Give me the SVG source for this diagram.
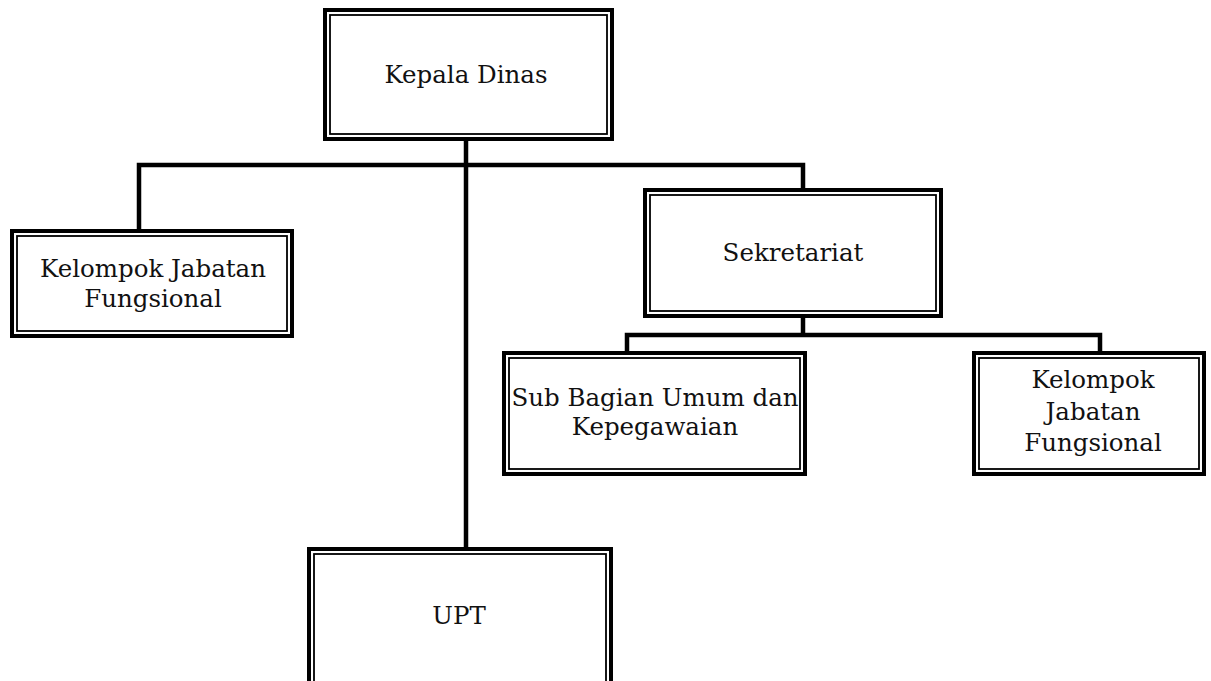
<svg xmlns="http://www.w3.org/2000/svg" width="1211" height="681" viewBox="0 0 1211 681">
<style>
.outer{fill:#fff;stroke:#000;stroke-width:4}
.inner{fill:none;stroke:#000;stroke-width:1.8}
.conn{fill:none;stroke:#000;stroke-width:4.5;stroke-linejoin:miter;stroke-linecap:butt}
text{font-family:"DejaVu Serif","Liberation Serif",serif;font-size:24.5px;fill:#111;text-anchor:middle}
</style>
<rect width="1211" height="681" fill="#fff"/>
<g id="connectors">
<path class="conn" d="M466,141 V549"/>
<path class="conn" d="M139,231 V165 H803 V190"/>
<path class="conn" d="M803,316 V335"/>
<path class="conn" d="M627,353 V335 H1100 V353"/>
</g>
<g id="kepala-dinas">
<rect class="outer" x="325" y="10" width="287" height="129"/>
<rect class="inner" x="330" y="15" width="277" height="119"/>
<text x="466" y="83">Kepala Dinas</text>
</g>
<g id="kjf-left">
<rect class="outer" x="12" y="231" width="280" height="105"/>
<rect class="inner" x="17" y="236" width="270" height="95"/>
<text x="153" y="277">Kelompok Jabatan</text>
<text x="153" y="307">Fungsional</text>
</g>
<g id="sekretariat">
<rect class="outer" x="645" y="190" width="296" height="126"/>
<rect class="inner" x="650" y="195" width="286" height="116"/>
<text x="793" y="261">Sekretariat</text>
</g>
<g id="sub-bagian">
<rect class="outer" x="504" y="353" width="301" height="121"/>
<rect class="inner" x="509" y="358" width="291" height="111"/>
<text x="655" y="406">Sub Bagian Umum dan</text>
<text x="655" y="435">Kepegawaian</text>
</g>
<g id="kjf-right">
<rect class="outer" x="974" y="353" width="230" height="121"/>
<rect class="inner" x="979" y="358" width="220" height="111"/>
<text x="1093" y="388">Kelompok</text>
<text x="1093" y="420">Jabatan</text>
<text x="1093" y="451">Fungsional</text>
</g>
<g id="upt">
<rect class="outer" x="309" y="549" width="302" height="150"/>
<rect class="inner" x="314" y="554" width="292" height="140"/>
<text x="459" y="624">UPT</text>
</g>
</svg>
